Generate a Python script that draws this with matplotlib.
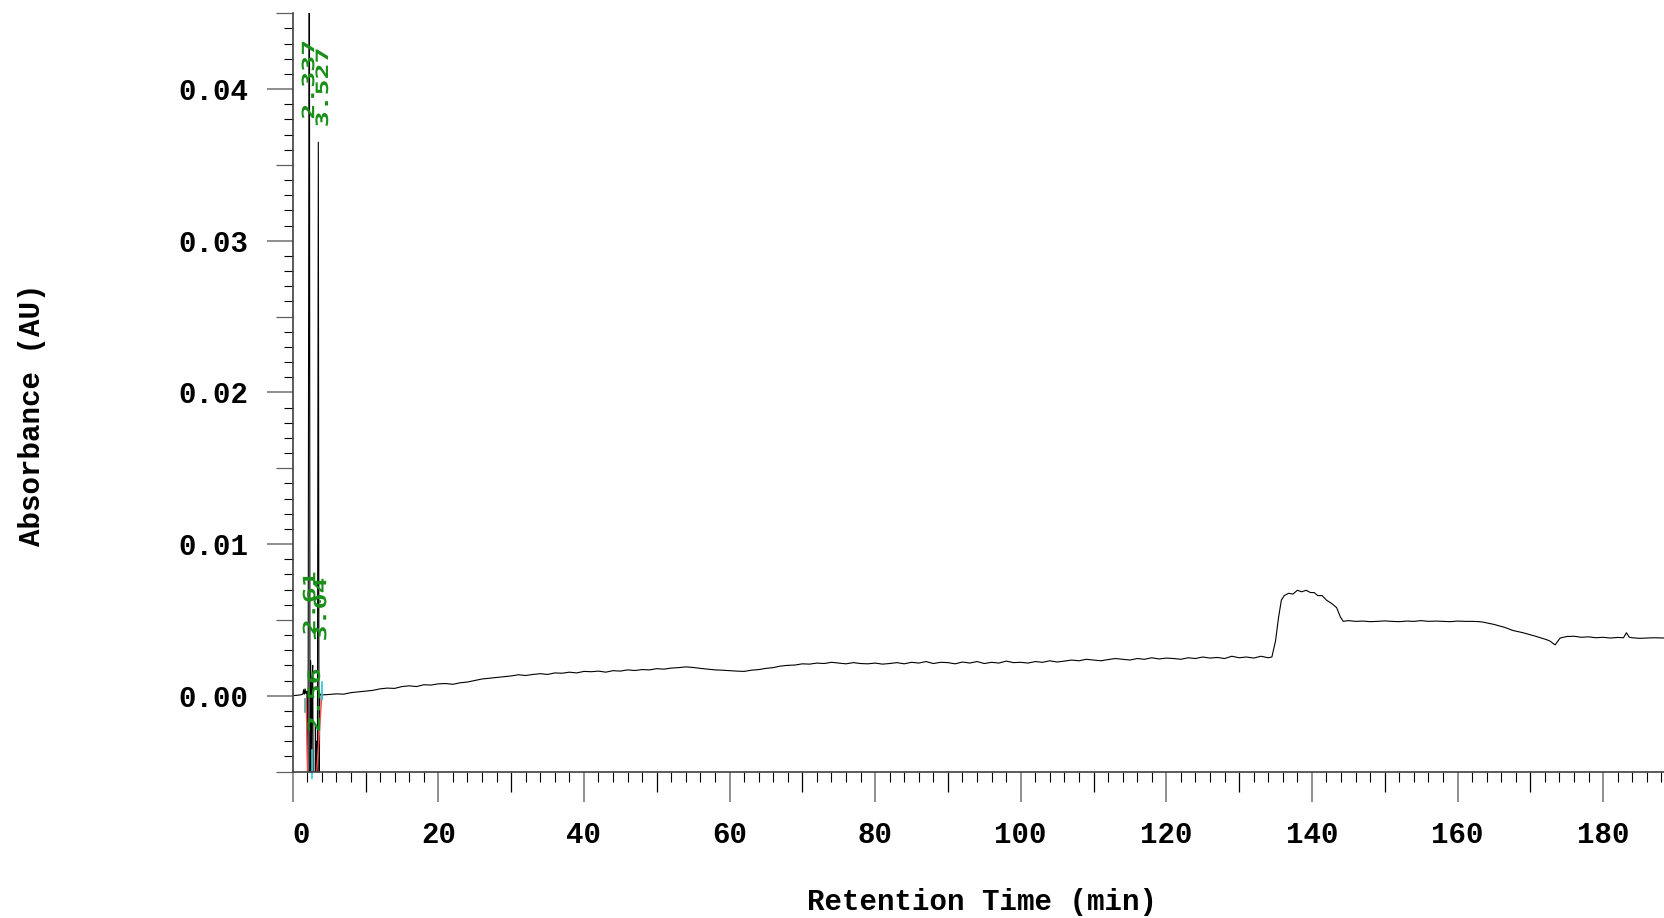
import numpy as np
import matplotlib
matplotlib.use("Agg")
import matplotlib.pyplot as plt
from matplotlib.ticker import FixedLocator
from matplotlib.textpath import TextPath
from matplotlib.patches import PathPatch
from matplotlib.font_manager import FontProperties
from matplotlib.transforms import Affine2D, IdentityTransform

plt.rcParams['font.family'] = ['Liberation Mono', 'DejaVu Sans Mono']
plt.rcParams['font.weight'] = 'bold'

# --- data (absorbance in mAU, converted to AU below) ---
# injection spikes around 2-4 min
spike_t = [0.0, 0.5, 1.0, 1.4, 1.5, 1.6, 1.7, 1.8, 1.95, 2.1,
           2.28, 2.38, 2.47, 2.55, 2.65, 2.75, 2.83, 2.95, 3.06, 3.12,
           3.2, 3.28, 3.38, 3.52, 3.62, 3.72, 3.85]
spike_mau = [0.0, 0.02, 0.05, 0.1, 0.4, 0.1, 0.45, 0.15, 0.3, -8,
             60, -8, 2.3, -8, 1.0, 2.0, -8, -8, -8, -2,
             -8, -3, -8, 36.5, -8, 0.0, 0.1]

# slowly drifting baseline, one sample per minute from 4 to 134 min
base_t = np.arange(4, 135)
base_mau = [0.05, 0.08, 0.12, 0.10, 0.20, 0.25, 0.30, 0.35, 0.45, 0.50, 0.48, 0.60, 0.65, 0.60, 0.72, 0.70, 0.78,
            0.80, 0.75, 0.85, 0.90, 1.00, 1.10, 1.15, 1.20, 1.25, 1.30, 1.38, 1.33, 1.40, 1.45, 1.40, 1.50, 1.48, 1.55, 1.50, 1.60,
            1.58, 1.62, 1.55, 1.65, 1.62, 1.70, 1.66, 1.72, 1.70, 1.78, 1.75, 1.82, 1.85, 1.90, 1.86, 1.80, 1.75, 1.70, 1.68, 1.65,
            1.62, 1.60, 1.68, 1.72, 1.80, 1.85, 1.95, 2.00, 2.02, 2.10, 2.08, 2.15, 2.12, 2.20, 2.15, 2.10, 2.18, 2.12, 2.10, 2.15,
            2.08, 2.12, 2.18, 2.10, 2.20, 2.15, 2.25, 2.12, 2.20, 2.18, 2.10, 2.22, 2.15, 2.25, 2.12, 2.20, 2.15, 2.28, 2.18, 2.20,
            2.15, 2.25, 2.20, 2.30, 2.22, 2.28, 2.35, 2.30, 2.40, 2.35, 2.30, 2.38, 2.45, 2.40, 2.35, 2.45, 2.40, 2.50, 2.42, 2.48,
            2.45, 2.40, 2.50, 2.45, 2.55, 2.48, 2.52, 2.45, 2.60, 2.50, 2.55, 2.48, 2.60, 2.50]

# step / plateau region at the end of the run
step_t = [134.5, 135.0, 135.4, 135.8, 136.2, 136.8, 137.4, 138.0, 138.6, 139.2,
          139.8, 140.3, 140.8, 141.4, 142.0, 142.8, 143.4, 143.9, 144.3, 145,
          146, 147, 148, 149, 150, 151, 152, 153, 154, 155, 156, 157, 158, 159, 160, 161, 162, 163,
          163.5, 165, 166.5, 167.6, 169, 170.5, 172.2, 172.7, 173.4, 174.1, 175,
          176, 177, 178, 179, 180, 181, 182, 182.8, 183.2, 183.6, 184, 185, 186, 187, 188.5]
step_mau = [2.55, 3.6, 5.1, 6.3, 6.6, 6.75, 6.7, 6.95, 6.85, 6.95,
            6.8, 6.8, 6.6, 6.6, 6.3, 6.05, 5.8, 5.2, 4.9, 4.95,
            4.9, 4.92, 4.88, 4.9, 4.93, 4.9, 4.88, 4.92, 4.9, 4.95, 4.9, 4.92, 4.9, 4.88, 4.92, 4.9, 4.9, 4.88,
            4.85, 4.7, 4.5, 4.3, 4.15, 3.95, 3.7, 3.6, 3.35, 3.8, 3.9,
            3.92, 3.85, 3.88, 3.82, 3.85, 3.8, 3.84, 3.82, 4.15, 3.85, 3.82, 3.78, 3.8, 3.82, 3.8]

# integration marks (start/end of peaks)
red_t = [(1.86, 2.04), (3.98, 3.30)]
red_mau = [(-0.2, -5.0), (-0.1, -5.0)]
mark_t = [1.73, 4.03, 2.69]
mark_mau = [(-0.2, -1.1), (0.9, -0.2), (-3.6, -5.4)]
mark_colors = ['#5f9ea0', '#22c8d8', '#22d0e0']

# peak labels
peak_labels = ["2.337", "3.527", "2.61", "3.04", "2.56"]
label_t = [2.1, 4.0, 2.25, 3.75, 2.9]
label_mau = [40.6, 40.1, 6.1, 5.7, -0.3]

t = np.concatenate([spike_t, base_t, step_t])
au = np.concatenate([spike_mau, base_mau, step_mau]) / 1000.0

W, H = 1665, 918
x0, x1 = 292.7, 1665.0
ytop, ybot = 13.25, 771.5
fig = plt.figure(figsize=(W / 100, H / 100), dpi=100)
ax = fig.add_axes([x0 / W, (H - ybot) / H, (x1 - x0) / W, (ybot - ytop) / H])

ax.plot(t, au, color='black', lw=0.8)
for (ta, tb), (ya, yb) in zip(red_t, red_mau):
    ax.plot([ta, tb], [ya / 1000, yb / 1000], color='#ff4a4a', lw=1.0)
for tm, (ya, yb), c in zip(mark_t, mark_mau, mark_colors):
    ax.plot([tm, tm], [ya / 1000, yb / 1000], color=c, lw=1.2, clip_on=False)

ax.set_xlim(0, 188.5)
ax.set_ylim(-0.005, 0.045)

for s in ['top', 'right']:
    ax.spines[s].set_visible(False)
for s in ['left', 'bottom']:
    ax.spines[s].set_color('#404040')
    ax.spines[s].set_linewidth(1.2)

# x ticks: major every 20, medium every 10, minor every 2
ax.set_xticks(np.arange(0, 181, 20), labels=[str(v) for v in range(0, 181, 20)])
ax.xaxis.set_minor_locator(FixedLocator([v for v in range(0, 189, 2) if v % 10]))
ax.tick_params(axis='x', which='major', length=21.6, width=1.1, color='#707070',
               pad=13.7, labelsize=21)
ax.tick_params(axis='x', which='minor', length=7.2, width=0.8, color='black')
ax.get_xticklabels()[0].set_ha('left')

# y ticks: major every 0.01, medium every 0.005, minor every 0.001
yt = [0.00, 0.01, 0.02, 0.03, 0.04]
ax.set_yticks(yt, labels=[f"{v:.2f}" for v in yt])
ax.yaxis.set_minor_locator(FixedLocator([k / 1000 for k in range(-5, 46) if k % 5]))
ax.tick_params(axis='y', which='major', length=18.7, width=1.1, color='#707070',
               pad=13.5, labelsize=21)
ax.tick_params(axis='y', which='minor', length=6.5, width=0.8, color='black')

secx = ax.secondary_xaxis('bottom')
secx.set_xticks(list(range(10, 189, 20)))
secx.tick_params(length=14.4, width=0.9, color='black', labelbottom=False)
secx.spines['bottom'].set_visible(False)
secy = ax.secondary_yaxis('left')
secy.set_yticks([-0.005, 0.005, 0.015, 0.025, 0.035, 0.045])
secy.tick_params(length=12.2, width=0.9, color='#606060', labelleft=False)
secy.spines['left'].set_visible(False)

fig.text(32 / W, 1 - 415 / H, 'Absorbance (AU)', rotation=90, ha='center', va='center',
         fontsize=21, fontweight='bold')
fig.text(982 / W, 1 - 902 / H, 'Retention Time (min)', ha='center', va='center',
         fontsize=21, fontweight='bold')

# green rotated, stretched peak labels, drawn on top of the trace
label_font = FontProperties(family='DejaVu Sans Mono')
for txt, tl, yl in zip(peak_labels, label_t, label_mau):
    tp = TextPath((0, 0), txt, size=1, prop=label_font)
    path = Affine2D().scale(26.5, 17).rotate_deg(90).transform_path(tp)
    ext = path.get_extents()
    cx, cy = ax.transData.transform((tl, yl / 1000))
    path = Affine2D().translate(cx - (ext.x0 + ext.x1) / 2,
                                cy - (ext.y0 + ext.y1) / 2).transform_path(path)
    ax.add_artist(PathPatch(path, transform=IdentityTransform(), facecolor='#1a901a',
                            edgecolor='none', clip_on=False, zorder=5))

fig.savefig('out.png', dpi=100)
